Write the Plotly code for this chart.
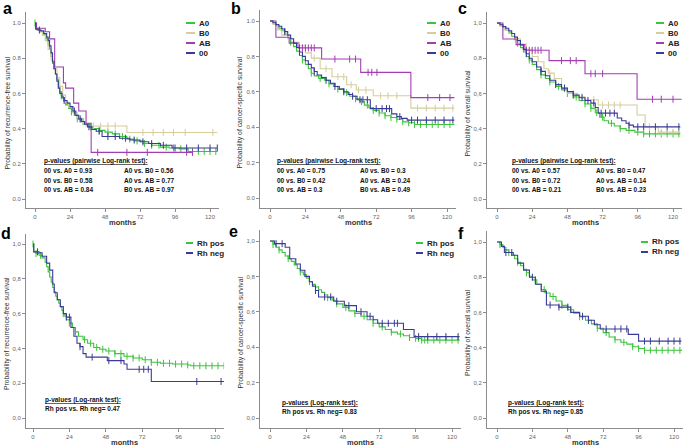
import numpy as np
import plotly.graph_objects as go

W, H = 685, 447
GREEN = "#3cc43c"
TAN = "#d5cd9c"
PURPLE = "#a23db3"
BLUE = "#3a3a98"
AXIS = "#8c8c8c"
FONT = "Liberation Sans"

# ---------------- data ----------------
# a: recurrence-free survival, ABO groups
a_A0_t = [0, 0.5, 2, 4, 6, 7.5, 9, 10, 11, 12, 13, 14, 15, 16, 17, 18, 19.5, 21, 23, 25, 27, 29, 31, 34, 37, 40, 44, 48, 53, 58, 63, 68, 74, 80, 86, 92, 99, 105, 125]
a_A0_s = [1.0, 0.97, 0.96, 0.95, 0.935, 0.91, 0.875, 0.85, 0.81, 0.77, 0.74, 0.71, 0.68, 0.64, 0.61, 0.585, 0.555, 0.535, 0.515, 0.495, 0.475, 0.455, 0.44, 0.425, 0.41, 0.40, 0.39, 0.38, 0.37, 0.355, 0.34, 0.33, 0.315, 0.305, 0.295, 0.29, 0.285, 0.27, 0.27]
a_A0_c = [0, 18, 25, 29, 33, 38, 44, 50, 55, 60, 65, 70, 75, 80, 85, 90, 95, 100, 108, 112, 116, 120, 124]
a_B0_t = [0, 1, 3, 5, 7, 9, 11, 13, 15, 17, 19, 21, 23, 26, 29, 32, 35, 63, 125]
a_B0_s = [1.0, 0.96, 0.95, 0.93, 0.9, 0.85, 0.79, 0.74, 0.69, 0.64, 0.59, 0.55, 0.52, 0.49, 0.46, 0.435, 0.415, 0.378, 0.378]
a_B0_c = [40, 45, 50, 55, 74, 81, 88, 95, 103, 122]
a_AB_t = [0, 1, 7, 10, 13.5, 19.5, 21, 26.5, 30, 35, 38.5, 108]
a_AB_s = [1.0, 0.97, 0.95, 0.91, 0.75, 0.66, 0.63, 0.545, 0.5, 0.43, 0.265, 0.265]
a_AB_c = [43, 63, 77, 104, 108]
a_00_t = [0, 0.5, 2, 4, 6, 8, 9, 10, 11, 12, 13, 14, 15, 16, 17, 18.5, 20, 22, 24, 26, 28, 30, 32, 34, 36, 39, 42, 46, 58, 65, 72, 78, 86, 94, 125]
a_00_s = [1.0, 0.965, 0.96, 0.955, 0.94, 0.92, 0.9, 0.87, 0.83, 0.78, 0.74, 0.71, 0.67, 0.63, 0.6, 0.575, 0.56, 0.545, 0.525, 0.5, 0.475, 0.455, 0.44, 0.425, 0.41, 0.395, 0.385, 0.355, 0.345, 0.335, 0.325, 0.315, 0.305, 0.29, 0.29]
a_00_c = [3, 20, 27, 31, 37, 44, 50, 55, 62, 68, 74, 80, 88, 96, 104, 112, 120, 125]

# b: cancer-specific survival, ABO groups
b_A0_t = [0, 2, 4, 6, 8, 10, 12, 14, 16, 18, 20, 22, 24, 26, 28, 30, 33, 37, 40, 43, 46, 50, 54, 58, 61, 64, 67, 70, 74, 78, 82, 86, 90, 94, 98, 125]
b_A0_s = [1.0, 0.99, 0.975, 0.96, 0.945, 0.925, 0.905, 0.88, 0.855, 0.83, 0.805, 0.78, 0.755, 0.73, 0.705, 0.69, 0.675, 0.665, 0.645, 0.63, 0.615, 0.595, 0.575, 0.56, 0.545, 0.525, 0.51, 0.495, 0.48, 0.465, 0.455, 0.445, 0.43, 0.425, 0.415, 0.415]
b_A0_c = [14, 22, 28, 34, 40, 46, 52, 58, 62, 66, 70, 74, 78, 82, 86, 90, 94, 98, 102, 106, 110, 114, 118, 122]
b_B0_t = [0, 2, 5, 8, 12, 16, 20, 24, 28, 34, 42, 52, 58.5, 70, 95.5, 125]
b_B0_s = [1.0, 0.98, 0.95, 0.92, 0.9, 0.88, 0.86, 0.82, 0.79, 0.73, 0.685, 0.64, 0.61, 0.578, 0.508, 0.508]
b_B0_c = [30, 38, 46, 50, 55, 60, 65, 75, 80, 86, 100, 106, 112, 118, 124]
b_AB_t = [0, 4, 13, 19, 35, 61.5, 95.5, 125]
b_AB_s = [1.0, 0.908, 0.875, 0.848, 0.785, 0.71, 0.567, 0.567]
b_AB_c = [20, 22, 24, 26, 28, 30, 44, 54, 58, 66.5, 69, 72.5, 107, 115, 122]
b_00_t = [0, 2, 4, 6, 8, 10, 12, 14, 16, 18, 20, 22, 24, 26, 28, 30, 32, 35, 38, 41, 44, 47, 50, 53, 56, 59, 68, 82.5, 86, 89, 93, 125]
b_00_s = [1.0, 0.99, 0.98, 0.97, 0.955, 0.94, 0.92, 0.9, 0.875, 0.85, 0.825, 0.8, 0.775, 0.755, 0.735, 0.715, 0.695, 0.68, 0.665, 0.648, 0.63, 0.615, 0.6, 0.585, 0.575, 0.555, 0.505, 0.475, 0.46, 0.45, 0.44, 0.44]
b_00_c = [10, 20, 30, 38, 44, 50, 56, 61, 63, 66, 72, 76, 79, 81, 88, 96, 100, 106, 112, 118, 124]

# c: overall survival, ABO groups
c_A0_t = [0, 2, 4, 6, 8, 10, 12, 14, 16, 18, 20, 22, 24, 27, 30, 33, 36, 40, 44, 48, 52, 56, 60, 64, 67, 70, 73, 76, 80, 84, 88, 94, 100, 125]
c_A0_s = [1.0, 0.99, 0.975, 0.96, 0.945, 0.925, 0.905, 0.885, 0.86, 0.835, 0.81, 0.79, 0.765, 0.735, 0.705, 0.685, 0.665, 0.64, 0.62, 0.6, 0.58, 0.56, 0.54, 0.515, 0.49, 0.465, 0.445, 0.43, 0.415, 0.4, 0.39, 0.38, 0.37, 0.37]
c_A0_c = [14, 22, 30, 36, 42, 48, 54, 60, 64, 68, 72, 78, 84, 90, 96, 100, 104, 108, 112, 116, 120, 124]
c_B0_t = [0, 2, 5, 8, 12, 16, 20, 24, 28, 32, 35, 39, 44, 48, 55, 60, 69, 95.5, 101, 110, 125]
c_B0_s = [1.0, 0.98, 0.96, 0.94, 0.91, 0.88, 0.85, 0.81, 0.78, 0.74, 0.715, 0.685, 0.63, 0.60, 0.58, 0.564, 0.534, 0.477, 0.41, 0.38, 0.38]
c_B0_c = [36, 46, 52, 58, 66, 72, 76, 80, 84, 104, 112, 120]
c_AB_t = [0, 4, 13, 19, 35.5, 60, 95.5, 126]
c_AB_s = [1.0, 0.909, 0.877, 0.845, 0.786, 0.712, 0.567, 0.567]
c_AB_c = [20, 22, 24, 26, 28, 30, 44, 50, 54, 64, 67, 72, 106, 112, 120]
c_00_t = [0, 2, 4, 6, 8, 10, 12, 14, 16, 18, 20, 22, 24, 27, 30, 33, 36, 40, 44, 48, 52, 56, 60, 64, 67, 69, 82, 85, 88, 90, 93, 125]
c_00_s = [1.0, 0.99, 0.98, 0.97, 0.955, 0.94, 0.92, 0.9, 0.875, 0.85, 0.825, 0.8, 0.78, 0.75, 0.725, 0.7, 0.675, 0.65, 0.63, 0.61, 0.59, 0.575, 0.56, 0.545, 0.52, 0.488, 0.46, 0.445, 0.43, 0.42, 0.41, 0.41]
c_00_c = [20, 30, 40, 46, 52, 58, 62, 66, 71, 74, 77, 80, 90, 96, 100, 108, 116, 124]

# d: recurrence-free survival, Rh groups
d_pos_t = [0, 0.5, 2, 4, 6, 8, 9, 10, 11, 12, 13, 14, 15, 16, 17, 18, 19, 20, 21, 22, 24, 26, 28, 30, 33, 36, 40, 44, 48, 54, 60, 66, 72, 78, 84, 92, 102, 104, 126]
d_pos_s = [1.0, 0.955, 0.945, 0.935, 0.92, 0.895, 0.87, 0.84, 0.81, 0.78, 0.75, 0.725, 0.70, 0.68, 0.66, 0.64, 0.62, 0.60, 0.585, 0.565, 0.545, 0.52, 0.495, 0.47, 0.45, 0.43, 0.405, 0.395, 0.385, 0.37, 0.355, 0.345, 0.335, 0.32, 0.315, 0.31, 0.305, 0.30, 0.30]
d_pos_c = [0, 2, 5, 20, 24, 28, 34, 38, 42, 46, 50, 54, 58, 62, 66, 70, 74, 78, 82, 86, 90, 94, 98, 102, 106, 110, 114, 118, 122, 126]
d_neg_t = [0, 0.5, 4, 6, 9, 11, 13, 14, 16, 18, 20, 22, 25, 27, 29, 31, 33, 35, 49, 60, 62, 78, 126]
d_neg_s = [1.0, 0.955, 0.95, 0.93, 0.89, 0.85, 0.77, 0.72, 0.68, 0.64, 0.60, 0.58, 0.52, 0.47, 0.43, 0.41, 0.37, 0.35, 0.33, 0.31, 0.28, 0.21, 0.21]
d_neg_c = [3, 22, 24, 31, 39, 50, 58, 70, 73, 76, 108, 124]

# e: cancer-specific survival, Rh groups
e_pos_t = [0, 2, 4, 6, 8, 10, 12, 14, 16, 18, 20, 22, 24, 26, 28, 30, 32, 34, 36, 38, 41, 44, 48, 52, 56, 60, 64, 68, 72, 76, 80, 84, 88, 92, 96, 100, 125]
e_pos_s = [1.0, 0.98, 0.965, 0.95, 0.935, 0.915, 0.9, 0.885, 0.865, 0.845, 0.825, 0.81, 0.79, 0.77, 0.755, 0.74, 0.725, 0.71, 0.695, 0.68, 0.665, 0.645, 0.625, 0.605, 0.59, 0.575, 0.555, 0.535, 0.515, 0.5, 0.485, 0.475, 0.465, 0.455, 0.45, 0.44, 0.44]
e_pos_c = [2, 6, 12, 20, 26, 32, 38, 44, 50, 56, 62, 68, 74, 80, 86, 92, 96, 98, 100, 102, 104, 108, 112, 116, 120, 124]
e_neg_t = [0, 3, 10, 13, 17, 20, 23, 26, 28, 30, 32, 42, 49, 57, 64, 68, 71, 88, 95, 125]
e_neg_s = [1.0, 0.985, 0.965, 0.90, 0.87, 0.835, 0.80, 0.77, 0.745, 0.72, 0.684, 0.66, 0.635, 0.60, 0.575, 0.555, 0.535, 0.50, 0.46, 0.46]
e_neg_c = [4, 8, 30, 36, 40, 44, 52, 60, 66, 74, 78, 82, 84, 98, 104, 110, 116, 124]

# f: overall survival, Rh groups
f_pos_t = [0, 2, 4, 6, 8, 10, 12, 14, 16, 18, 20, 22, 24, 27, 30, 33, 36, 40, 44, 48, 52, 56, 60, 64, 68, 72, 76, 80, 84, 88, 92, 96, 100, 125]
f_pos_s = [1.0, 0.985, 0.97, 0.955, 0.94, 0.925, 0.905, 0.885, 0.865, 0.845, 0.825, 0.805, 0.785, 0.76, 0.73, 0.71, 0.69, 0.665, 0.64, 0.615, 0.595, 0.575, 0.555, 0.535, 0.51, 0.485, 0.46, 0.445, 0.43, 0.42, 0.405, 0.395, 0.385, 0.38]
f_pos_c = [2, 8, 14, 20, 26, 32, 38, 44, 50, 56, 62, 68, 74, 80, 86, 92, 96, 100, 104, 108, 112, 116, 120, 124]
f_neg_t = [0, 3, 5, 11, 14, 18, 22, 26, 30, 33.5, 42, 50, 56, 62, 66, 70, 89, 96, 125]
f_neg_s = [1.0, 0.975, 0.94, 0.925, 0.88, 0.84, 0.80, 0.76, 0.72, 0.642, 0.63, 0.60, 0.578, 0.555, 0.53, 0.506, 0.475, 0.437, 0.437]
f_neg_c = [6, 10, 24, 36, 42, 48, 58, 62, 74, 80, 84, 88, 100, 104, 110, 116, 120, 124]

abo_names = ["A0", "B0", "AB", "00"]
abo_colors = [GREEN, TAN, PURPLE, BLUE]
rh_names = ["Rh pos", "Rh neg"]
rh_colors = [GREEN, BLUE]

x_ticks = [0, 24, 48, 72, 96, 120]
y_ticks = [0, 0.2, 0.4, 0.6, 0.8, 1.0]
y_labels_dot = ["0.0", "0.2", "0.4", "0.6", "0.8", "1.0"]
y_labels_comma = ["0,0", "0,2", "0,4", "0,6", "0,8", "1,0"]

y_titles = ["Probability of recurrence-free survival",
            "Probability of cancer-specific survival",
            "Probability of overall survival"]

pv_abo = {
    "a": [("00 vs. A0 = 0.93", "A0 vs. B0 = 0.56"), ("00 vs. B0 = 0.58", "A0 vs. AB = 0.77"), ("00 vs. AB = 0.84", "B0 vs. AB = 0.97")],
    "b": [("00 vs. A0 = 0.75", "A0 vs. B0 = 0.3"), ("00 vs. B0 = 0.42", "A0 vs. AB = 0.24"), ("00 vs. AB = 0.3", "B0 vs. AB = 0.49")],
    "c": [("00 vs. A0 = 0.57", "A0 vs. B0 = 0.47"), ("00 vs. B0 = 0.72", "A0 vs. AB = 0.14"), ("00 vs. AB = 0.21", "B0 vs. AB = 0.23")],
}
pv_rh = {"d": "Rh pos vs. Rh neg= 0.47", "e": "Rh pos vs. Rh neg= 0.83", "f": "Rh pos vs. Rh neg= 0.85"}

# ---------------- panel geometry (pixels) ----------------
# xl: y-axis line, x0/x120: x of 0 and 120 months, yb: x-axis line, y0/y1: y of 0 and 1
panels = [
    dict(key="a", xl=26, x0=35, x120=210, yb=208, y0=199, y1=23, ylab=y_labels_dot, title=y_titles[0], tx=7,
         series=[(a_A0_t, a_A0_s, a_A0_c), (a_B0_t, a_B0_s, a_B0_c), (a_AB_t, a_AB_s, a_AB_c), (a_00_t, a_00_s, a_00_c)],
         leg=(186, 195, 23), pv=(42, 122, 161), letter=(7, 9)),
    dict(key="b", xl=260, x0=270, x120=447, yb=208, y0=198, y1=21, ylab=y_labels_dot, title=y_titles[1], tx=239,
         series=[(b_A0_t, b_A0_s, b_A0_c), (b_B0_t, b_B0_s, b_B0_c), (b_AB_t, b_AB_s, b_AB_c), (b_00_t, b_00_s, b_00_c)],
         leg=(427, 436, 23), pv=(275, 358, 161), letter=(236, 8)),
    dict(key="c", xl=487, x0=497, x120=673, yb=208, y0=199, y1=23, ylab=y_labels_comma, title=y_titles[2], tx=467,
         series=[(c_A0_t, c_A0_s, c_A0_c), (c_B0_t, c_B0_s, c_B0_c), (c_AB_t, c_AB_s, c_AB_c), (c_00_t, c_00_s, c_00_c)],
         leg=(656, 664, 23), pv=(510, 594, 161), letter=(462, 9)),
    dict(key="d", xl=26, x0=33, x120=215, yb=428, y0=418, y1=244, ylab=y_labels_comma, title=y_titles[0], tx=7,
         series=[(d_pos_t, d_pos_s, d_pos_c), (d_neg_t, d_neg_s, d_neg_c)],
         leg=(186, 193, 243), pv=(43, None, 400), letter=(6, 233)),
    dict(key="e", xl=260, x0=270, x120=452, yb=428, y0=418, y1=241, ylab=y_labels_comma, title=y_titles[1], tx=240,
         series=[(e_pos_t, e_pos_s, e_pos_c), (e_neg_t, e_neg_s, e_neg_c)],
         leg=(416, 423, 243), pv=(280, None, 403), letter=(233, 231)),
    dict(key="f", xl=487, x0=497, x120=674, yb=428, y0=418, y1=242, ylab=y_labels_comma, title=y_titles[2], tx=468,
         series=[(f_pos_t, f_pos_s, f_pos_c), (f_neg_t, f_neg_s, f_neg_c)],
         leg=(641, 648, 242), pv=(506, None, 403), letter=(461, 233)),
]

X_RIGHT = 126
Y_TOP = 1.06


def px(p):
    return p / W


def py(p):
    return 1 - p / H


def step_at(t, s, c):
    idx = np.searchsorted(np.asarray(t), np.asarray(c), side="right") - 1
    return np.asarray(s)[idx]


fig = go.Figure()
annotations = []
shapes = []
layout = {}

for i, p in enumerate(panels, start=1):
    ppm = (p["x120"] - p["x0"]) / 120
    ppu = p["y0"] - p["y1"]
    x_left = (p["xl"] - p["x0"]) / ppm
    y_bottom = (p["y0"] - p["yb"]) / ppu
    xdom = [px(p["xl"]), min(1, px(p["x0"] + X_RIGHT * ppm))]
    ydom = [py(p["yb"]), py(p["y0"] - Y_TOP * ppu)]
    sfx = "" if i == 1 else str(i)
    layout["xaxis" + sfx] = dict(
        domain=xdom, range=[x_left, X_RIGHT], anchor="y" + sfx, tickvals=x_ticks,
        showline=True, linecolor=AXIS, linewidth=1, ticks="outside", ticklen=3, tickcolor=AXIS,
        tickfont=dict(size=6, color="#666", family=FONT), showgrid=False, zeroline=False, fixedrange=True)
    layout["yaxis" + sfx] = dict(
        domain=ydom, range=[y_bottom, Y_TOP], anchor="x" + sfx, tickvals=y_ticks, ticktext=p["ylab"],
        showline=True, linecolor=AXIS, linewidth=1, ticks="outside", ticklen=3, tickcolor=AXIS,
        tickfont=dict(size=6, color="#666", family=FONT), showgrid=False, zeroline=False, fixedrange=True)

    is_abo = len(p["series"]) == 4
    names = abo_names if is_abo else rh_names
    colors = abo_colors if is_abo else rh_colors
    for (t, s, c), name, col in zip(p["series"], names, colors):
        fig.add_trace(go.Scatter(x=t, y=s, mode="lines", line=dict(color=col, width=1.1, shape="hv"),
                                 name=name, showlegend=False, xaxis="x" + sfx, yaxis="y" + sfx))
        fig.add_trace(go.Scatter(x=c, y=step_at(t, s, c), mode="markers", showlegend=False,
                                 marker=dict(symbol="line-ns", size=5, line=dict(width=1, color=col)),
                                 xaxis="x" + sfx, yaxis="y" + sfx))

    # legend (manual, short line samples)
    lx0, lx1, ly = p["leg"]
    for k, (name, col) in enumerate(zip(names, colors)):
        yy = ly + k * 10
        shapes.append(dict(type="line", xref="paper", yref="paper", x0=px(lx0), x1=px(lx1),
                           y0=py(yy), y1=py(yy), line=dict(color=col, width=2)))
        annotations.append(dict(x=px(lx1 + 1.5), y=py(yy), xref="paper", yref="paper", text="<b>%s</b>" % name,
                                showarrow=False, xanchor="left", yanchor="middle",
                                font=dict(size=8, color="#222", family=FONT)))

    # p-values
    cx1, cx2, cy = p["pv"]
    if is_abo:
        annotations.append(dict(x=px(cx1), y=py(cy), xref="paper", yref="paper",
                                text="<b><u>p-values (pairwise Log-rank test):</u></b>", showarrow=False,
                                xanchor="left", yanchor="middle", font=dict(size=6.5, color="#111", family=FONT)))
        for r, (left, right) in enumerate(pv_abo[p["key"]]):
            for xx, txt in ((cx1, left), (cx2, right)):
                annotations.append(dict(x=px(xx), y=py(cy + 9.5 * (r + 1)), xref="paper", yref="paper",
                                        text="<b>%s</b>" % txt, showarrow=False, xanchor="left", yanchor="middle",
                                        font=dict(size=6.5, color="#111", family=FONT)))
    else:
        annotations.append(dict(x=px(cx1), y=py(cy), xref="paper", yref="paper",
                                text="<b><u>p-values (Log-rank test):</u></b>", showarrow=False,
                                xanchor="left", yanchor="middle", font=dict(size=6.5, color="#111", family=FONT)))
        annotations.append(dict(x=px(cx1), y=py(cy + 9), xref="paper", yref="paper",
                                text="<b>%s</b>" % pv_rh[p["key"]], showarrow=False, xanchor="left",
                                yanchor="middle", font=dict(size=6.5, color="#111", family=FONT)))

    # y-axis title
    annotations.append(dict(x=px(p["tx"]), y=py((p["y1"] + p["yb"]) / 2 - 2), xref="paper", yref="paper",
                            text=p["title"], textangle=-90, showarrow=False, xanchor="center", yanchor="middle",
                            font=dict(size=6.8, color="#333", family=FONT)))
    # x-axis title
    annotations.append(dict(x=px((p["x0"] + p["x120"]) / 2), y=py(p["yb"] + 14.5), xref="paper", yref="paper",
                            text="<b>months</b>", showarrow=False, xanchor="center", yanchor="middle",
                            font=dict(size=7.5, color="#333", family=FONT)))
    # panel letter
    lx, lyy = p["letter"]
    annotations.append(dict(x=px(lx), y=py(lyy), xref="paper", yref="paper", text="<b>%s</b>" % p["key"],
                            showarrow=False, xanchor="center", yanchor="middle",
                            font=dict(size=16, color="#000", family=FONT)))

fig.update_layout(
    width=W, height=H, margin=dict(l=0, r=0, t=0, b=0),
    paper_bgcolor="white", plot_bgcolor="white",
    annotations=annotations, shapes=shapes, **layout)

# drop the default page margin so the figure sits at the window's top-left corner
fig.write_html("out.html", config={"displayModeBar": False},
               post_script="document.body.style.margin='0';")
